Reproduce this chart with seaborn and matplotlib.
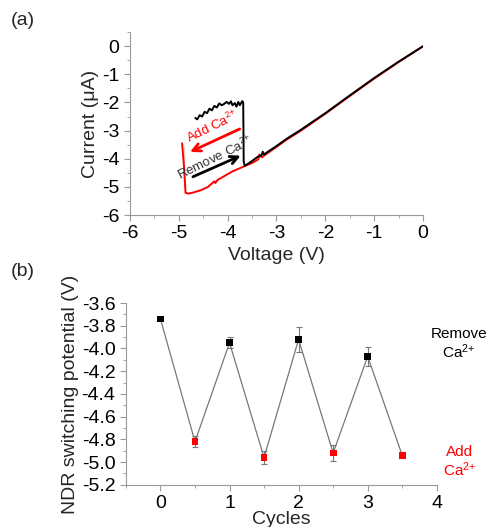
import numpy as np
import pandas as pd
import matplotlib
matplotlib.use("Agg")
import matplotlib.pyplot as plt
from matplotlib.ticker import MultipleLocator
import seaborn as sns

# (a) I-V sweeps
red_v = [0.0, -0.5, -1.0, -1.5, -2.0, -2.5, -2.8, -3.0, -3.2, -3.3, -3.35, -3.37,
         -3.5, -3.7, -3.9, -4.1, -4.2, -4.25, -4.27, -4.4, -4.55, -4.7, -4.8, -4.86,
         -4.89, -4.89, -4.93]
red_i = [0.0, -0.56, -1.15, -1.77, -2.4, -3.0, -3.33, -3.58, -3.82, -3.95, -3.85, -4.02,
         -4.15, -4.3, -4.45, -4.65, -4.75, -4.86, -4.8, -5.0, -5.12, -5.2, -5.24, -5.21,
         -5.05, -3.55, -3.45]
black_v = [0.0, -0.5, -1.0, -1.5, -2.0, -2.5, -2.8, -3.0, -3.2, -3.25, -3.28, -3.3,
           -3.4, -3.5, -3.6, -3.65, -3.67, -3.68, -3.70, -3.75, -3.78, -3.82, -3.85,
           -3.9, -3.93, -3.97, -4.02, -4.07, -4.12, -4.17, -4.22, -4.27, -4.32, -4.37,
           -4.42, -4.47, -4.52, -4.57, -4.62, -4.66]
black_i = [0.0, -0.55, -1.13, -1.75, -2.38, -2.97, -3.3, -3.55, -3.78, -3.85, -3.75, -3.86,
           -3.95, -4.08, -4.2, -4.25, -4.1, -2.0, -1.95, -2.1, -1.98, -2.15, -2.02,
           -2.1, -1.96, -2.05, -1.98, -2.05, -2.1, -2.03, -2.18, -2.12, -2.28, -2.22,
           -2.38, -2.33, -2.5, -2.45, -2.6, -2.55]

# (b) NDR switching potential per half cycle
cycles = [0, 0.5, 1, 1.5, 2, 2.5, 3, 3.5]
ndr_v = [-3.74, -4.82, -3.95, -4.96, -3.92, -4.92, -4.07, -4.94]
ndr_err = [0.0, 0.05, 0.05, 0.06, 0.11, 0.07, 0.08, 0.02]
step = ["remove", "add", "remove", "add", "remove", "add", "remove", "add"]

sns.set_style("ticks")
plt.rcParams["font.family"] = ["Liberation Sans", "DejaVu Sans"]
plt.rcParams["mathtext.fontset"] = "custom"
plt.rcParams["mathtext.rm"] = "Liberation Sans"
plt.rcParams["mathtext.it"] = "Liberation Sans"
plt.rcParams["axes.unicode_minus"] = False
grey = "#999999"
plt.rcParams.update({"axes.edgecolor": grey, "xtick.color": grey, "ytick.color": grey,
                     "xtick.labelcolor": "black", "ytick.labelcolor": "black",
                     "axes.linewidth": 0.8, "xtick.major.size": 4, "ytick.major.size": 4,
                     "xtick.minor.size": 2, "ytick.minor.size": 2})

fig = plt.figure(figsize=(4.88, 5.27), dpi=100)
ax1 = fig.add_axes([0.266, 0.592, 0.601, 0.347])
ax2 = fig.add_axes([0.258, 0.080, 0.637, 0.345])

red_df = pd.DataFrame({"V": red_v, "I": red_i})
black_df = pd.DataFrame({"V": black_v, "I": black_i})
sns.lineplot(data=red_df, x="V", y="I", sort=False, color="red", lw=1.4, ax=ax1)
sns.lineplot(data=black_df, x="V", y="I", sort=False, color="black", lw=1.4, ax=ax1)

ax1.annotate("", xy=(-4.82, -3.80), xytext=(-3.70, -2.90),
             arrowprops=dict(arrowstyle="->", color="red", lw=2, mutation_scale=14))
ax1.annotate("", xy=(-3.68, -3.85), xytext=(-4.76, -4.68),
             arrowprops=dict(arrowstyle="->", color="black", lw=2, mutation_scale=14))
ax1.text(-4.30, -2.85, "Add Ca$^{2{+}}$", color="red", fontsize=9.5, rotation=26,
         ha="center", va="center")
ax1.text(-4.26, -3.98, "Remove Ca$^{2{+}}$", color="#333333", fontsize=9.5, rotation=26,
         ha="center", va="center")

ax1.set_xlim(-6, 0)
ax1.set_ylim(-6, 0.5)
ax1.xaxis.set_major_locator(MultipleLocator(1))
ax1.xaxis.set_minor_locator(MultipleLocator(0.5))
ax1.yaxis.set_minor_locator(MultipleLocator(0.5))
ax1.set_yticks(range(-6, 1))
ax1.tick_params(labelsize=14)
ax1.set_xlabel("Voltage (V)", fontsize=14, labelpad=3)
ax1.set_ylabel("Current (\u03bcA)", fontsize=14, labelpad=2)
sns.despine(ax=ax1)

ndr_df = pd.DataFrame({"cycle": cycles, "V": ndr_v, "err": ndr_err, "step": step})
ax2.errorbar(ndr_df["cycle"], ndr_df["V"], yerr=ndr_df["err"], fmt="none",
             ecolor="#777777", elinewidth=0.8, capsize=2.5, capthick=0.8, zorder=1)
sns.lineplot(data=ndr_df, x="cycle", y="V", color="#777777", lw=0.9, ax=ax2, zorder=2)
sns.scatterplot(data=ndr_df, x="cycle", y="V", hue="step",
                palette={"remove": "black", "add": "red"}, marker="s", s=24,
                edgecolor="none", legend=False, ax=ax2, zorder=3)

ax2.text(4.32, -3.96, "Remove\nCa$^{2{+}}$", color="black", fontsize=11, ha="center",
         va="center", linespacing=1.05, clip_on=False)
ax2.text(4.33, -5.0, "Add\nCa$^{2{+}}$", color="red", fontsize=11, ha="center",
         va="center", linespacing=1.05, clip_on=False)

ax2.set_xlim(-0.5, 4)
ax2.set_ylim(-5.2, -3.6)
ax2.xaxis.set_minor_locator(MultipleLocator(0.5))
ax2.yaxis.set_major_locator(MultipleLocator(0.2))
ax2.yaxis.set_minor_locator(MultipleLocator(0.1))
ax2.set_xticks(range(0, 5))
ax2.yaxis.set_major_formatter(matplotlib.ticker.FormatStrFormatter("%.1f"))
ax2.tick_params(labelsize=14)
ax2.set_xlabel("Cycles", fontsize=14, labelpad=-1)
ax2.set_ylabel("NDR switching potential (V)", fontsize=14, labelpad=2)
sns.despine(ax=ax2)

fig.text(0.022, 0.962, "(a)", fontsize=14, va="center")
fig.text(0.022, 0.485, "(b)", fontsize=14, va="center")

fig.savefig("out.png", dpi=100)
